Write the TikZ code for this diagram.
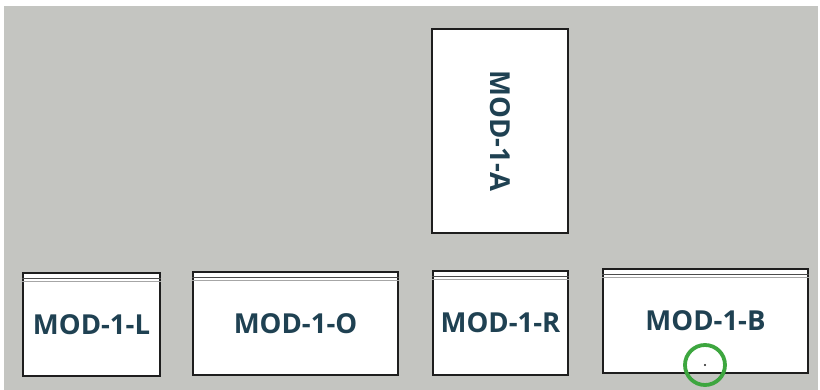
\documentclass[tikz,border=0pt]{standalone}
\usepackage{fontspec}
\setmainfont{Open Sans}
\definecolor{bggray}{HTML}{C4C5C1}
\definecolor{txtc}{HTML}{1F4152}
\definecolor{edge}{HTML}{1E1E1E}
\definecolor{hl}{HTML}{3DA63F}
\tikzset{
  modfont/.style={font=\fontsize{27.5}{29}\selectfont\bfseries, text=txtc},
  modbox/.style={draw=edge, fill=white, line width=1.3pt, inner sep=0pt, modfont},
  hdrA/.style={draw=edge!80, line width=0.8pt},
  hdrB/.style={draw=gray!70, line width=0.8pt},
}
\begin{document}
\begin{tikzpicture}[x=1pt,y=-1pt]
\useasboundingbox (0,0) rectangle (820,390);
\fill[white] (0,0) rectangle (820,390);
\fill[bggray] (4,6) rectangle (818,390);

\node[modbox, minimum width=136pt, minimum height=204pt] (A) at (500,131) {};
\node[modfont, rotate=-90] (Atext) at (A.center) {MOD-1-A};

\node[modbox, minimum width=137pt, minimum height=103pt] (L) at (91.5,324.5) {\raisebox{-3pt}{MOD-1-L}};
\node[modbox, minimum width=205pt, minimum height=103pt] (O) at (295.5,323.5) {\raisebox{-3pt}{MOD-1-O}};
\node[modbox, minimum width=135pt, minimum height=104pt] (R) at (500.5,323) {\raisebox{-4pt}{MOD-1-R}};
\node[modbox, minimum width=205pt, minimum height=104pt] (B) at (705.5,321) {\raisebox{-5pt}{MOD-1-B}};

\foreach \n in {L,O,R,B}{
  \draw[hdrA] ([yshift=-6pt]\n.north west) -- ([yshift=-6pt]\n.north east);
  \draw[hdrB] ([yshift=-9.5pt]\n.north west) -- ([yshift=-9.5pt]\n.north east);
}

\coordinate (mark) at (705,365);
\fill[edge] (mark) circle (1.2pt);
\draw[hl, line width=3.8pt] (mark) circle (20pt);
\end{tikzpicture}
\end{document}
